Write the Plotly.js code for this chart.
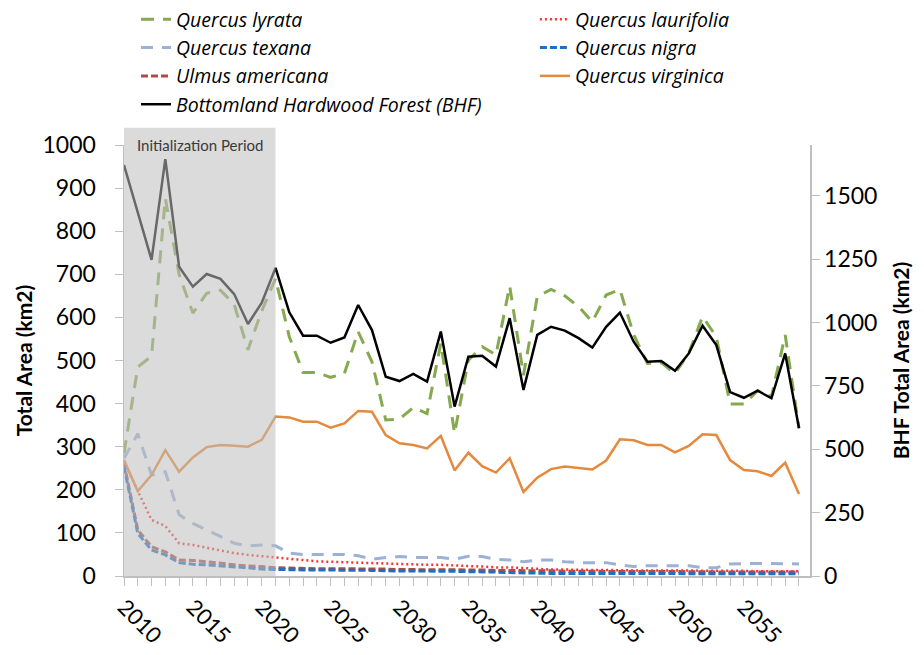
<!DOCTYPE html>
<html>
<head>
<meta charset="utf-8">
<script src="https://cdn.plot.ly/plotly-3.0.1.min.js"></script>
<style>
html,body{margin:0;padding:0;background:#fff;}
#chart{width:924px;height:655px;}
</style>
</head>
<body>
<div id="chart"></div>
<script>
// ---- data ----
var years = [];
for (var yr = 2010; yr <= 2059; yr++) years.push(yr);

var quercusLyrata = [285,485,510,876,700,610,656,663,630,525,615,690,555,472,472,461,470,567,497,362,
  364,391,377,540,331,501,532,513,673,466,648,665,650,625,590,652,665,560,493,495,
  470,517,602,555,399,399,430,416,559,343];
var quercusLaurifolia = [265,196,130,116,76,72,66,60,53,49,46,43,39,36,34,33,32,31,29,28,
  28,27,26,26,24,23,22,20,20,18,16,15,15,14,14,14,13,13,13,13,
  12,12,12,12,12,12,11,11,11,11];
var quercusTexana = [273,330,234,242,142,122,107,91,76,70,72,70,53,50,50,50,50,47,39,43,
  45,43,43,43,39,46,45,39,37,33,37,37,33,31,31,31,26,22,24,24,
  24,24,19,19,28,29,29,29,28,28];
var quercusNigra = [254,99,60,49,31,27,26,24,22,19,16,15,14,14,14,14,13,13,13,12,
  12,12,11,11,11,10,10,9,8,7,6,6,6,6,5,5,5,5,5,5,
  5,5,5,5,5,5,5,5,5,5];
var ulmusAmericana = [261,107,68,56,37,36,33,29,26,23,22,19,18,18,17,17,17,16,16,16,
  15,15,15,15,14,14,14,13,13,12,12,12,11,11,11,11,10,10,10,10,
  10,10,10,9,9,9,9,9,9,9];
var quercusVirginica = [269,197,234,292,242,275,299,304,302,300,316,370,368,358,358,344,354,383,381,327,
  308,304,296,325,245,286,255,240,273,195,228,248,254,251,247,268,317,315,304,304,
  287,302,329,327,269,246,243,232,263,190];
var bhf = [1621,1436,1247,1644,1220,1141,1191,1172,1112,994,1078,1215,1040,948,948,920,941,1069,970,786,
  769,797,767,964,668,865,869,826,1017,734,951,983,968,938,901,983,1039,924,845,848,
  809,878,987,911,725,703,731,701,878,583];

var leftTicks = [0,100,200,300,400,500,600,700,800,900,1000];
var rightTicks = [0,250,500,750,1000,1250,1500];
var xTicks = [2010,2015,2020,2025,2030,2035,2040,2045,2050,2055];
var initStart = 2010, initEnd = 2021;

// ---- chart ----
var FONT = 'Lato, "Open Sans", "Liberation Sans", sans-serif';
var legFont = {family: '"Open Sans", Lato, sans-serif', size: 19.5, color: '#000', style: 'italic'};

function tr(name, y, color, dash, width, legend, yaxis) {
  return {
    x: years, y: y, name: name, type: 'scatter', mode: 'lines',
    line: {color: color, dash: dash, width: width},
    legend: legend, yaxis: yaxis || 'y', hoverinfo: 'skip'
  };
}

var traces = [
  tr('<i>Quercus lyrata</i>', quercusLyrata, '#86A94F', '13px,9px', 3, 'legend'),
  tr('<i>Quercus texana</i>', quercusTexana, '#9BB1D6', '12px,9px', 3, 'legend'),
  tr('<i>Ulmus americana</i>', ulmusAmericana, '#B04A47', '7px,3px', 3, 'legend'),
  tr('<i>Quercus laurifolia</i>', quercusLaurifolia, '#FF3030', '2px,3px', 2.5, 'legend2'),
  tr('<i>Quercus nigra</i>', quercusNigra, '#1F70C1', '7px,3px', 3, 'legend2'),
  tr('<i>Quercus virginica</i>', quercusVirginica, '#E5893C', 'solid', 2.5, 'legend2'),
  tr('<i>Bottomland Hardwood Forest (BHF)</i>', bhf, '#000000', 'solid', 2.5, 'legend', 'y2')
];

var layout = {
  width: 924, height: 655,
  margin: {l: 124, r: 114, t: 145, b: 79},
  paper_bgcolor: '#fff', plot_bgcolor: 'rgba(0,0,0,0)',
  font: {family: FONT, color: '#000'},
  showlegend: true,
  legend: {
    xref: 'paper', yref: 'container',
    x: 0.0175, y: 1.0, xanchor: 'left', yanchor: 'top',
    orientation: 'v', bgcolor: 'rgba(0,0,0,0)', font: legFont,
    traceorder: 'normal', tracegroupgap: 0
  },
  legend2: {
    xref: 'paper', yref: 'container',
    x: 0.599, y: 1.0, xanchor: 'left', yanchor: 'top',
    orientation: 'v', bgcolor: 'rgba(0,0,0,0)', font: legFont,
    traceorder: 'normal', tracegroupgap: 0
  },
  xaxis: {
    range: [2010, 2059.8],
    tickmode: 'array', tickvals: xTicks, ticktext: xTicks.map(String),
    tickangle: 45, tickfont: {family: FONT, size: 22, color: '#000'},
    ticks: 'outside', ticklen: 8, tickcolor: '#BFBFBF', tickwidth: 1,
    minor: {dtick: 1, tick0: 2010, ticks: 'outside', ticklen: 8, tickcolor: '#BFBFBF', tickwidth: 1, showgrid: false},
    showline: true, linecolor: '#BFBFBF', linewidth: 1.5,
    showgrid: false, zeroline: false, ticklabelstandoff: 0
  },
  yaxis: {
    range: [0, 1000], tickmode: 'array', tickvals: leftTicks,
    tickfont: {family: FONT, size: 23, color: '#000'},
    ticks: 'outside', ticklen: 8, tickcolor: '#BFBFBF',
    showline: true, linecolor: '#BFBFBF', linewidth: 1.5,
    showgrid: false, zeroline: false, ticklabelstandoff: 14,
    title: {text: '<b>Total Area (km2)</b>', font: {family: FONT, size: 21, color: '#000'}, standoff: 4}
  },
  yaxis2: {
    range: [0, 1700], overlaying: 'y', side: 'right',
    tickmode: 'array', tickvals: rightTicks, tickprefix: '\u2002\u200A',
    tickfont: {family: FONT, size: 23, color: '#000'},
    ticks: 'outside', ticklen: 8, tickcolor: '#BFBFBF',
    showline: true, linecolor: '#BFBFBF', linewidth: 1.5,
    showgrid: false, zeroline: false,
    title: {text: '<b>BHF Total Area (km2)</b>', font: {family: FONT, size: 21, color: '#000'}, standoff: 18}
  },
  shapes: [{
    type: 'rect', xref: 'x', yref: 'paper',
    x0: initStart, x1: initEnd, y0: 0, y1: 1.04,
    fillcolor: 'rgba(190,190,190,0.55)', line: {width: 0}, layer: 'above'
  }],
  annotations: [{
    xref: 'x', yref: 'paper', x: (initStart + initEnd) / 2, y: 1.0,
    text: 'Initialization Period', showarrow: false,
    font: {family: FONT, size: 15, color: '#3a3a3a'},
    xanchor: 'center', yanchor: 'middle'
  }]
};

Plotly.newPlot('chart', traces, layout, {displayModeBar: false, staticPlot: true});
</script>
</body>
</html>
